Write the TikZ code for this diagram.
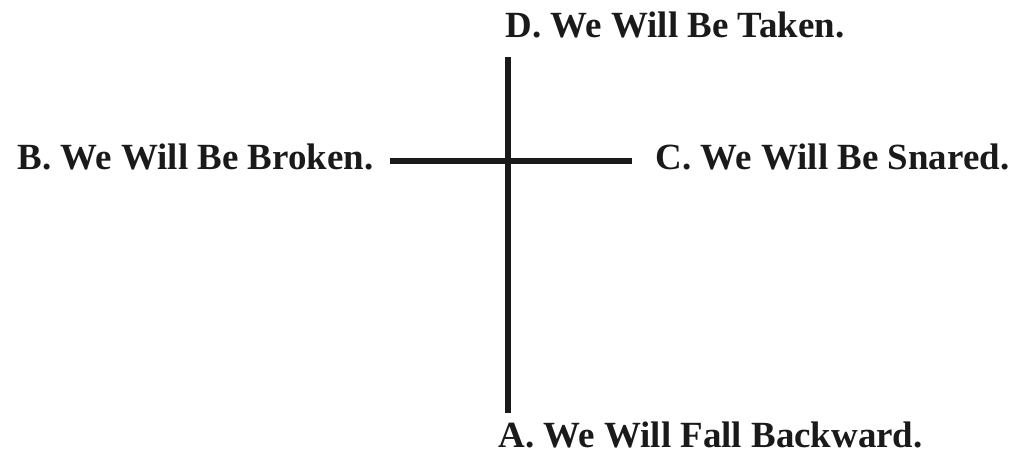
\documentclass[tikz,border=0pt]{standalone}
\usepackage{fontspec}
\setmainfont{Liberation Serif}
\usepackage{xcolor}
\definecolor{ink}{HTML}{1A1A1A}

\begin{document}
\begin{tikzpicture}[x=0.01cm, y=-0.01cm, every node/.style={font=\fontsize{10.5}{12}\selectfont\bfseries, text=ink, inner sep=0pt}]
  \useasboundingbox (0,0) rectangle (1013,462);
  \node[anchor=base west] (taken) at (505,38) {D. We Will Be Taken.};
  \node[anchor=base east] (broken) at (374,170) {B. We Will Be Broken.};
  \node[anchor=base west] (snared) at (655,170) {C. We Will Be Snared.};
  \node[anchor=base west] (backward) at (498,448) {A. We Will Fall Backward.};
  \coordinate (top) at (508,57);
  \coordinate (bottom) at (508,413);
  \coordinate (left) at (390,161);
  \coordinate (right) at (632,161);
  \draw[ink, line width=0.06cm] (top) -- (bottom);
  \draw[ink, line width=0.06cm] (left) -- (right);
\end{tikzpicture}
\end{document}
